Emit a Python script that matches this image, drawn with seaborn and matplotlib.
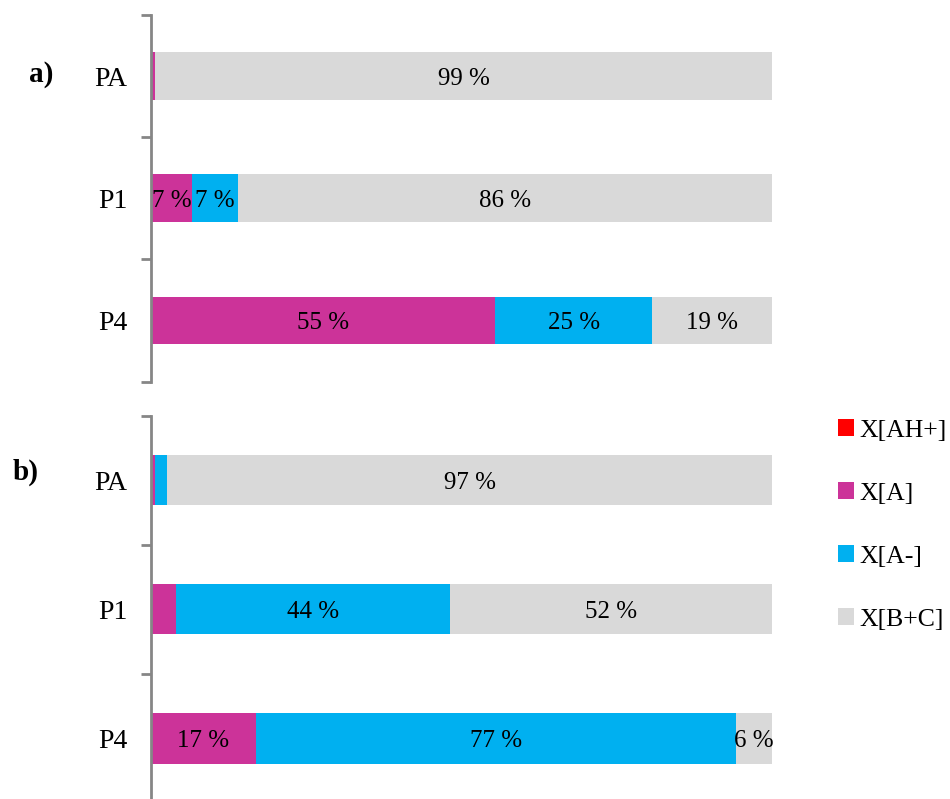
import matplotlib
matplotlib.use("Agg")
import matplotlib.pyplot as plt
import seaborn as sns
import numpy as np
from matplotlib.patches import Patch
from matplotlib.ticker import FixedLocator

# Samples and species shares (%)
samples = ["PA", "P1", "P4"]
species = ["X[AH+]", "X[A]", "X[A-]", "X[B+C]"]
colors = ["#FF0000", "#CC3399", "#00B0F0", "#D9D9D9"]

# panel a)
a_AH = [0.0, 0.0, 0.0]
a_A = [0.7, 6.6, 55.4]
a_Am = [0.0, 7.4, 25.3]
a_BC = [99.3, 86.0, 19.3]

# panel b)
b_AH = [0.0, 0.0, 0.0]
b_A = [0.6, 4.0, 16.9]
b_Am = [2.0, 44.1, 77.3]
b_BC = [97.4, 51.9, 5.8]

sns.set_style("white")
plt.rcParams["font.family"] = ["Liberation Serif", "DejaVu Serif"]
plt.rcParams["text.color"] = "black"
plt.rcParams["ytick.color"] = "black"
plt.rcParams["ytick.labelcolor"] = "black"

fig = plt.figure(figsize=(9.5, 7.99), dpi=100)
W, H = 950, 799


def axes_px(x0, y0, x1, y1):
    return fig.add_axes([x0 / W, 1 - y1 / H, (x1 - x0) / W, (y1 - y0) / H])


def stacked(ax, series):
    series = [np.asarray(s, dtype=float) for s in series]
    cum = np.cumsum(series, axis=0)
    # draw the running totals from the widest down so each segment shows
    for i in range(len(series) - 1, -1, -1):
        sns.barplot(x=cum[i], y=samples, orient="y", color=colors[i],
                    width=0.39, saturation=1, ax=ax, edgecolor="none")
    for i, vals in enumerate(series):
        for j, v in enumerate(vals):
            if v >= 5:
                ax.text(cum[i][j] - v / 2, j, f"{v:.0f} %", ha="center",
                        va="center_baseline", fontsize=18, color="black")
    ax.set_xlim(0, 100)
    ax.set_ylim(2.5, -0.5)
    ax.set_xlabel("")
    ax.set_ylabel("")
    for s in ["top", "right", "bottom"]:
        ax.spines[s].set_visible(False)
    ax.spines["left"].set_color("#868686")
    ax.spines["left"].set_linewidth(2)
    ax.xaxis.set_visible(False)
    ax.yaxis.set_minor_locator(FixedLocator([-0.5, 0.5, 1.5, 2.5]))
    ax.tick_params(axis="y", which="major", length=0, pad=17, labelsize=20,
                   labelcolor="black")
    ax.tick_params(axis="y", which="minor", left=True, length=7, width=2,
                   color="#868686")
    ax.set_facecolor("none")


ax1 = axes_px(151, 15, 772, 381.5)
stacked(ax1, [a_AH, a_A, a_Am, a_BC])

ax2 = axes_px(151, 415.5, 772, 803)
stacked(ax2, [b_AH, b_A, b_Am, b_BC])

fig.text(41 / W, 1 - 74 / H, "a)", fontsize=21, fontweight="bold",
         ha="center", va="center")
fig.text(26 / W, 1 - 472 / H, "b)", fontsize=21, fontweight="bold",
         ha="center", va="center")

handles = [Patch(facecolor=c, edgecolor="none", label=l)
           for c, l in zip(colors, species)]
fig.legend(handles=handles, loc="upper left",
           bbox_to_anchor=(838 / W, 1 - 419 / H), frameon=False,
           fontsize=18.5, handlelength=0.64, handleheight=0.64,
           handletextpad=0.2, labelspacing=1.58, borderaxespad=0,
           borderpad=0, labelcolor="black")

fig.savefig("out.png", dpi=100)
